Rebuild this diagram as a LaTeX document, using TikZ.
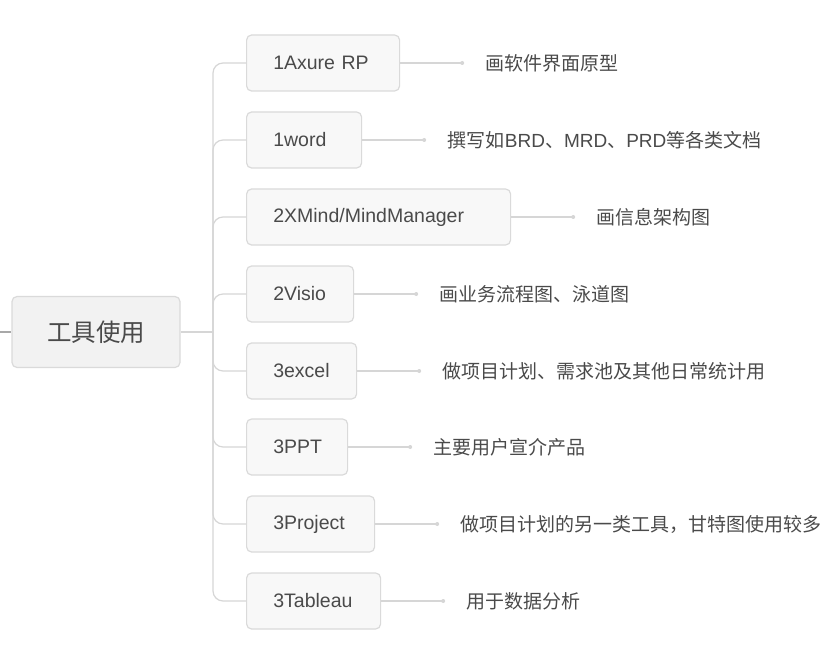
\documentclass[tikz,border=0pt]{standalone}
\usepackage{fontspec}
\setmainfont{Noto Sans CJK SC}
\newfontfamily\latinfont{Liberation Sans}
\definecolor{txt}{HTML}{4A4A4A}
\definecolor{boxline}{HTML}{DADADA}
\definecolor{rootfill}{HTML}{F2F2F2}
\definecolor{toolfill}{HTML}{F8F8F8}
\definecolor{linegray}{HTML}{D6D6D6}
\definecolor{stubgray}{HTML}{A8A8A8}
\begin{document}
\begin{tikzpicture}[x=1pt,y=-1pt,
	rootbox/.style={draw=boxline,fill=rootfill,rounded corners=5pt,line width=1.2pt,minimum width=168pt,minimum height=71pt,text=txt,font=\fontsize{24.5}{27}\selectfont},
	toolbox/.style={draw=boxline,fill=toolfill,rounded corners=5pt,line width=1.2pt,minimum height=56pt,inner xsep=26.7pt,align=left,anchor=west,text=txt,font=\latinfont\fontsize{19.5}{22}\selectfont},
	usetext/.style={anchor=west,inner sep=0pt,text=txt,font=\fontsize{19}{22}\selectfont},
	conn/.style={draw=linegray,line width=1.2pt}]
	\useasboundingbox (0,0) rectangle (834,660);
	% root
	\node[rootbox] (root) at (96,332) {工具使用};
	\coordinate (stub) at (0,332);
	\coordinate (trunk) at (213,332);
	\draw[conn,draw=stubgray] (stub) -- (root.west);
	\draw[conn] (root.east) -- (trunk);
	% tools and what they are for
	\foreach \i/\y/\w/\tool/\use [evaluate=\w as \tw using \w-53.4] in {
		1/63/153/1Axure RP/画软件界面原型,
		2/140/115/1word/{撰写如{\latinfont BRD}、{\latinfont MRD}、{\latinfont PRD}等各类文档},
		3/217/264/{2XMind/MindManager}/画信息架构图,
		4/294/107/2Visio/画业务流程图、泳道图,
		5/371/110/3excel/做项目计划、需求池及其他日常统计用,
		6/447/101/3PPT/主要用户宣介产品,
		7/524/128/3Project/做项目计划的另一类工具，甘特图使用较多,
		8/601/134/3Tableau/用于数据分析}{
		\node[toolbox,text width=\tw pt] (t\i) at (246,\y) {\tool};
		\draw[conn,rounded corners=10pt] (trunk) |- (t\i.west);
		\coordinate (d\i) at ([xshift=62pt]t\i.east);
		\draw[conn] (t\i.east) -- (d\i); \fill[linegray] (d\i) circle (2pt);
		\node[usetext] (u\i) at ([xshift=23.5pt]d\i) {\use};
	}
\end{tikzpicture}
\end{document}
